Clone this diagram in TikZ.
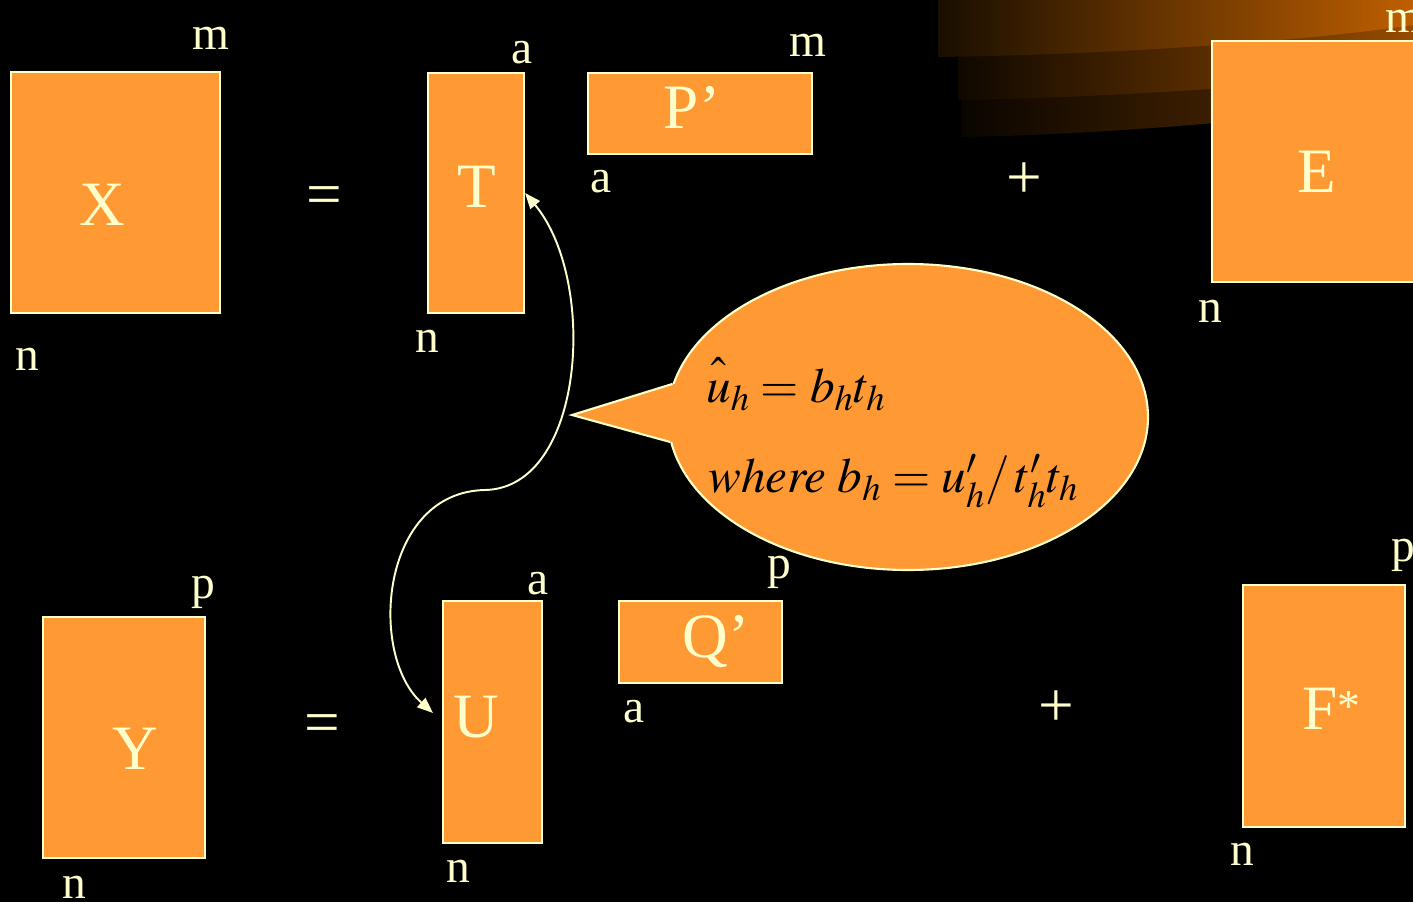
\documentclass[tikz,border=0pt]{standalone}
\usepackage{mathptmx}
\usepackage[no-math]{fontspec}
\setmainfont{Liberation Serif}
\usetikzlibrary{arrows.meta,shapes.geometric}
\definecolor{matorange}{RGB}{255,153,51}
\definecolor{paleyellow}{RGB}{255,255,204}
\definecolor{swooshA}{RGB}{190,95,0}
\definecolor{swooshAm}{RGB}{118,60,0}
\definecolor{swooshAl}{RGB}{25,14,0}
\definecolor{swooshB}{RGB}{150,75,0}
\definecolor{swooshBm}{RGB}{82,41,0}
\definecolor{swooshBl}{RGB}{15,8,0}
\definecolor{swooshC}{RGB}{100,50,0}
\definecolor{swooshCm}{RGB}{56,28,0}
\definecolor{swooshCl}{RGB}{10,5,0}

\begin{document}
\begin{tikzpicture}[x=0.02cm, y=-0.02cm,
    matbox/.style={draw=paleyellow, fill=matorange, line width=1.2pt, inner sep=0pt},
    letter/.style={text=paleyellow, font=\fontsize{36}{40}\selectfont, inner sep=0pt, anchor=base},
    dimlabel/.style={text=paleyellow, font=\fontsize{27}{30}\selectfont, inner sep=0pt, anchor=base},
    formula/.style={text=black, font=\fontsize{28}{32}\selectfont, inner sep=0pt, anchor=base west},
    link/.style={draw=paleyellow, line width=1.1pt, >={Triangle[length=9pt,width=7pt]}, <->}]

    % --- Lienzo (pixeles de la diapositiva) ---
    \def\px{0.02cm}
    \path[use as bounding box] (0,0) rectangle (1413,902);
    \clip (0,0) rectangle (1413,902);
    \fill[black] (0,0) rectangle (1413,902);

    % --- Franjas degradadas arriba a la derecha ---
    \shade[left color=swooshCl, middle color=swooshCm, right color=swooshC] (962,0) -- (962,137)
        .. controls (1100,135) and (1300,118) .. (1413,100) -- (1413,0) -- cycle;
    \shade[left color=swooshBl, middle color=swooshBm, right color=swooshB] (958,0) -- (958,100)
        .. controls (1100,98) and (1300,85) .. (1413,70) -- (1413,0) -- cycle;
    \shade[left color=swooshAl, middle color=swooshAm, right color=swooshA] (938,0) -- (938,57)
        .. controls (1100,55) and (1300,42) .. (1413,25) -- (1413,0) -- cycle;

    % --- Matrices (nombre, centro x, centro y, ancho, alto) ---
    \foreach \nm/\cx/\cy/\w/\h in {
        X/115.5/192.5/209/241,
        T/476/193/96/240,
        P/700/113.5/224/81,
        E/1316.5/161.5/209/241,
        Y/124/737.5/162/241,
        U/492.5/722/99/242,
        Q/700.5/642/163/82,
        F/1324/706/162/242}{
        \node[matbox, minimum width=\w*\px, minimum height=\h*\px] (\nm) at (\cx,\cy) {};
    }

    % --- Letras de las matrices ---
    \foreach \nm/\x/\y/\txt in {
        Xl/102/226/X, Tl/476.5/208/T, Pl/692/129/P’, El/1317/193/E,
        Yl/135/769/Y, Ul/476.5/737/U, Ql/716/657/Q’,
        Fl/1331/729/F\raisebox{4pt}{\fontsize{26}{28}\selectfont *}}{
        \node[letter] (\nm) at (\x,\y) {\txt};
    }

    % --- Dimensiones ---
    \foreach \nm/\x/\y/\txt in {
        mX/211/50/m, nX/27/370/n, aT/522/64/a, nT/427/352/n,
        mP/808/57/m, aP/601/193/a, mE/1404/33/m, nE/1210/322/n,
        pY/203/598/p, nY/74/898/n, aU/538/594/a, nU/458/882/n,
        pQ/779/578/p, aQ/634/722/a, pF/1403/561/p, nF/1242/865/n}{
        \node[dimlabel] (\nm) at (\x,\y) {\txt};
    }

    % --- Signos ---
    \node[letter, anchor=center] (eqtop) at (324.5,201) {=};
    \node[letter, anchor=center] (eqbot) at (322,729.5) {=};
    \node[letter, anchor=center] (plustop) at (1024,181) {+};
    \node[letter, anchor=center] (plusbot) at (1056,709) {+};

    % --- Globo con la regresion interna ---
    \node[ellipse, draw=paleyellow, fill=matorange, line width=1.2pt, inner sep=0pt,
        minimum width=480*\px, minimum height=306*\px] (bubble) at (908,417) {};
    \coordinate (tip) at (572,415);
    \fill[matorange] (bubble.172.8) -- (tip) -- (bubble.186.3) -- (bubble.center) -- cycle;
    \draw[paleyellow, line width=1.2pt] (bubble.172.8) -- (tip) -- (bubble.186.3);

    \node[formula] (eqone) at (706,402) {$\hat{\vphantom{h}u}_h = b_h t_h$};
    \node[formula] (eqtwo) at (708,492) {$\mathit{where}\; b_h = u_h^{\prime}/\,t_h^{\prime}t_h$};

    % --- Flecha entre T y U ---
    \coordinate (bend) at (485,490);
    \coordinate (uend) at (433,713);
    \draw[link] (T.east) .. controls (598,280) and (585,488) .. (bend)
        .. controls (380,492) and (368,655) .. (uend);

\end{tikzpicture}
\end{document}
